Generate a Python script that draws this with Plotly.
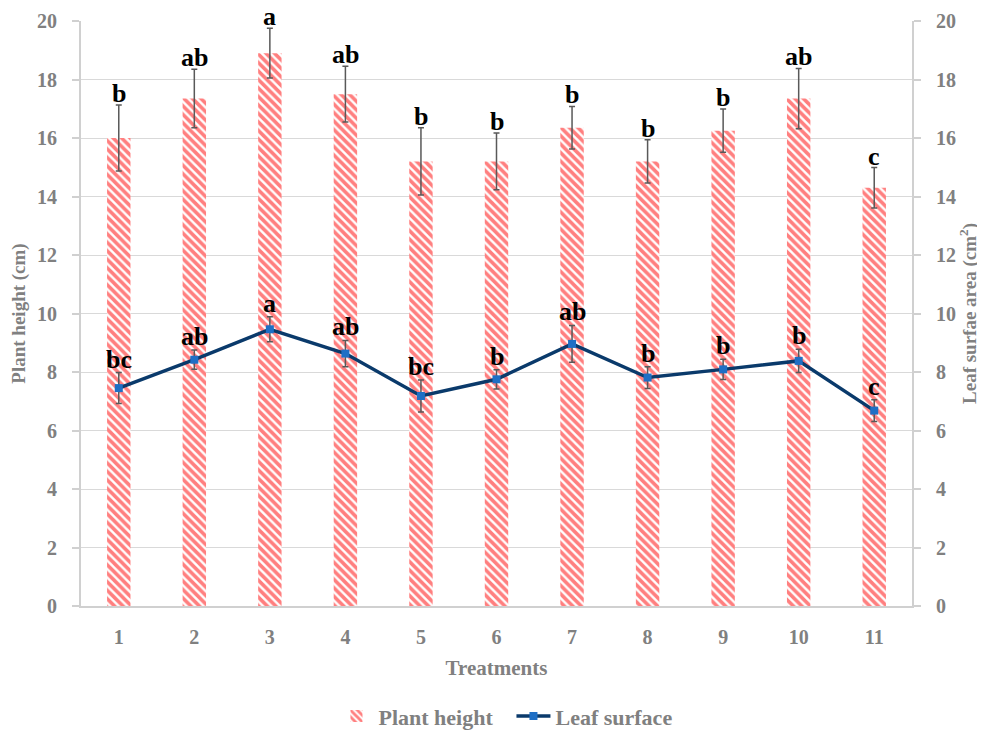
import plotly.graph_objects as go

treatments = [1, 2, 3, 4, 5, 6, 7, 8, 9, 10, 11]
plant_height = [16.0, 17.35, 18.9, 17.5, 15.2, 15.2, 16.35, 15.2, 16.25, 17.35, 14.3]
plant_height_err = [1.13, 1.0, 0.85, 0.95, 1.15, 0.97, 0.73, 0.74, 0.74, 1.03, 0.69]
plant_height_letters = ["b", "ab", "a", "ab", "b", "b", "b", "b", "b", "ab", "c"]
leaf_surface = [7.45, 8.42, 9.46, 8.63, 7.18, 7.75, 8.96, 7.81, 8.09, 8.38, 6.68]
leaf_surface_err = [0.53, 0.33, 0.43, 0.45, 0.55, 0.33, 0.63, 0.37, 0.35, 0.40, 0.37]
leaf_surface_letters = ["bc", "ab", "a", "ab", "bc", "b", "ab", "b", "b", "b", "c"]
y_ticks = list(range(0, 21, 2))

FONT = "Liberation Serif"
GRAY = "#808080"

fig = go.Figure()
fig.add_trace(go.Bar(
    x=treatments, y=plant_height, name="Plant height", width=0.31,
    marker=dict(color="white", line=dict(width=0),
                pattern=dict(shape="\\", fgcolor="#ff0000", bgcolor="white", size=6, solidity=0.6)),
    error_y=dict(type="data", array=plant_height_err, color="#595959", thickness=1.5, width=3),
))
fig.add_trace(go.Scatter(
    x=treatments, y=leaf_surface, name="Leaf surface", yaxis="y2", mode="lines+markers",
    line=dict(color="#0a3a6b", width=3.5),
    marker=dict(symbol="square", size=8, color="#1f6fc5"),
    error_y=dict(type="data", array=leaf_surface_err, color="#595959", thickness=1.5, width=3),
))

annotations = []
for x, v, e, t in zip(treatments, plant_height, plant_height_err, plant_height_letters):
    annotations.append(dict(x=x, y=v + e, xref="x", yref="y", text=t, showarrow=False,
                            yanchor="bottom", yshift=-5,
                            font=dict(family=FONT, size=26, color="black", weight="bold")))
for x, v, e, t in zip(treatments, leaf_surface, leaf_surface_err, leaf_surface_letters):
    annotations.append(dict(x=x, y=v + e, xref="x", yref="y2", text=t, showarrow=False,
                            yanchor="bottom", yshift=-3,
                            font=dict(family=FONT, size=26, color="black", weight="bold")))

axis_font = dict(family=FONT, size=20, color=GRAY, weight="bold")
ytitle_font = dict(family=FONT, size=19, color=GRAY, weight="bold")
xtitle_font = dict(family=FONT, size=21, color=GRAY, weight="bold")

fig.update_layout(
    width=985, height=734,
    margin=dict(l=73, r=81, t=13, b=136),
    paper_bgcolor="white", plot_bgcolor="white",
    showlegend=True,
    legend=dict(orientation="h", x=0.518, xanchor="center", yref="container", y=0.035, yanchor="middle",
                font=dict(family=FONT, size=22, color=GRAY, weight="bold"),
                itemwidth=34, entrywidth=128, entrywidthmode="pixels", traceorder="normal"),
    xaxis=dict(range=[0.5, 11.5], tickvals=treatments, ticktext=[str(t) for t in treatments],
               showgrid=False, showline=True, linecolor="#d0d0d0", linewidth=2, automargin=False,
               ticks="", tickfont=axis_font, ticklabelstandoff=12,
               title=dict(text="Treatments", font=xtitle_font, standoff=13)),
    yaxis=dict(range=[0, 20], tickvals=y_ticks, showgrid=True, gridcolor="#d9d9d9", gridwidth=1,
               showline=True, linecolor="#d0d0d0", linewidth=2, ticks="outside", ticklen=7,
               tickcolor="#d0d0d0", tickwidth=1.5, tickfont=axis_font, zeroline=False, automargin=False,
               ticklabelstandoff=11,
               title=dict(text="Plant height (cm)", font=ytitle_font, standoff=7)),
    yaxis2=dict(range=[0, 20], tickvals=y_ticks, overlaying="y", side="right", showgrid=False,
                showline=True, linecolor="#d0d0d0", linewidth=2, ticks="outside", ticklen=7,
                tickcolor="#d0d0d0", tickwidth=1.5, tickfont=axis_font, zeroline=False, automargin=False,
                ticklabelstandoff=11,
                title=dict(text="Leaf surfae area (cm<sup>2</sup>)", font=ytitle_font, standoff=5)),
    annotations=annotations,
)

fig.write_html("out.html")
